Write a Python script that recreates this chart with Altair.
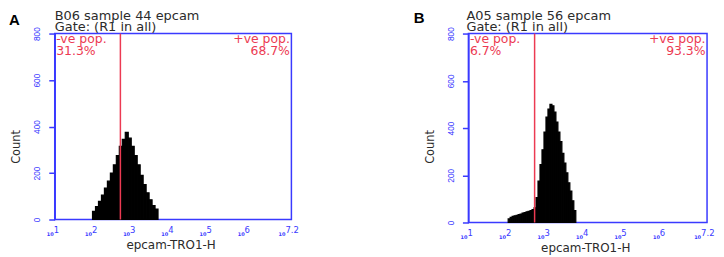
import math
import altair as alt
import pandas as pd

BLUE = "#3a3aff"
RED = "#ec3a52"
INK = "#2b2b2b"
FONT = "DejaVu Sans"

# ---- data ----
X_DOMAIN = [1.0, 7.2]          # log10 of fluorescence (10^1 .. 10^7.2)
Y_DOMAIN = [0, 800]
y_ticks = [0, 200, 400, 600, 800]
decades = [1, 2, 3, 4, 5, 6]
decade_labels = ["1", "2", "3", "4", "5", "6"]
end_value = [7.2]
end_label = ["7.2"]
gate = 2.72                    # log10 of gate position

a_first = 1.99
a_step = 0.078
a_counts = [35, 55, 78, 105, 135, 165, 200, 235, 275, 315, 345,
            375, 350, 315, 275, 235, 190, 150, 115, 85, 60, 45]

b_first = 2.033
b_step = 0.0517
b_counts = [15, 22, 26, 28, 30, 33, 36, 40, 42, 45, 47, 50, 55, 62,
            105, 175, 245, 308, 383, 446, 480, 500, 494, 467, 425, 383,
            342, 293, 251, 210, 168, 133, 92, 50]

minor_ticks = sorted({round(d + math.log10(k), 4)
                      for d in range(1, 8) for k in range(1, 10)
                      if d + math.log10(k) <= 7.2} | {7.2})


def txt(s, x, y, **kw):
    return alt.Chart(pd.DataFrame({"t": [s]})).mark_text(**kw).encode(
        x=alt.value(x), y=alt.value(y), text="t:N")


def panel(letter, lx, ly, t1, t2, first, step, counts, neg, pos, w, h, title_x):
    hist = pd.DataFrame({"lo": [first + i * step for i in range(len(counts))],
                         "count": counts})
    hist["hi"] = hist["lo"] + step
    xs = alt.Scale(domain=X_DOMAIN, nice=False, zero=False)
    ys = alt.Scale(domain=Y_DOMAIN, nice=False)
    bars = alt.Chart(hist).mark_rect(fill="black", stroke="black", strokeWidth=1.2,
                                     opacity=1).encode(
        x=alt.X("lo:Q", scale=xs,
                axis=alt.Axis(values=minor_ticks, labels=False, title=None, grid=False,
                              tickSize=4, tickWidth=1.2, tickColor=BLUE,
                              domainColor=BLUE, domainWidth=1.5)),
        x2="hi:Q",
        y=alt.Y("count:Q", scale=ys, stack=None,
                axis=alt.Axis(values=y_ticks, title=None, grid=False, labelAngle=270,
                              labelAlign="center", labelBaseline="bottom", labelPadding=7,
                              labelFont="Liberation Sans", labelFontSize=8.5,
                              labelColor=BLUE, tickColor=BLUE, tickSize=6, tickWidth=1.5,
                              domainColor=BLUE, domainWidth=1.5)),
        y2=alt.datum(0),
    )
    rule = alt.Chart(pd.DataFrame({"g": [gate]})).mark_rule(color=RED, strokeWidth=1.5).encode(
        x=alt.X("g:Q", axis=None))
    lab = pd.DataFrame({"v": decades, "e": decade_labels})
    endl = pd.DataFrame({"v": end_value, "e": end_label})
    tens = alt.Chart(lab).mark_text(text="10", align="right", baseline="alphabetic", dx=-1,
                                    font=FONT, fontSize=5, fontWeight="bold", color=BLUE).encode(
        x=alt.X("v:Q", axis=None), y=alt.value(h + 17))
    exps = alt.Chart(lab).mark_text(align="left", baseline="alphabetic", dx=-1,
                                    font=FONT, fontSize=8.5, color=BLUE).encode(
        x=alt.X("v:Q", axis=None), y=alt.value(h + 14), text="e:N")
    tens_end = alt.Chart(endl).mark_text(text="10", align="right", baseline="alphabetic", dx=-6,
                                         font=FONT, fontSize=5, fontWeight="bold", color=BLUE).encode(
        x=alt.X("v:Q", axis=None), y=alt.value(h + 17))
    exps_end = alt.Chart(endl).mark_text(align="left", baseline="alphabetic", dx=-6,
                                         font=FONT, fontSize=8.5, color=BLUE).encode(
        x=alt.X("v:Q", axis=None), y=alt.value(h + 14), text="e:N")
    layers = [
        bars, rule, tens, exps, tens_end, exps_end,
        txt(letter, lx, ly, align="left", baseline="alphabetic", font="Liberation Sans",
            fontSize=15, fontWeight="bold", color="black"),
        txt(t1, title_x, -14, align="left", baseline="alphabetic", font=FONT, fontSize=13, color=INK),
        txt(t2, title_x, -2.5, align="left", baseline="alphabetic", font=FONT, fontSize=13, color=INK),
        txt("-ve pop.", 1.5, 9.5, align="left", baseline="alphabetic", font=FONT, fontSize=12.5, color=RED),
        txt(neg, 1.5, 21.5, align="left", baseline="alphabetic", font=FONT, fontSize=12.5, color=RED),
        txt("+ve pop.", w - 1.5, 9.5, align="right", baseline="alphabetic", font=FONT, fontSize=12.5, color=RED),
        txt(pos, w - 1.5, 21.5, align="right", baseline="alphabetic", font=FONT, fontSize=12.5, color=RED),
        txt("Count", -37.5, 114, align="center", baseline="middle", angle=270, font=FONT,
            fontSize=11.5, color=INK),
        txt("epcam-TRO1-H", w / 2 - 2, h + 26, align="center", baseline="middle", font=FONT,
            fontSize=12, color=INK),
    ]
    return alt.layer(*layers).properties(width=w, height=h)


pa = panel("A", -46, -9, "B06 sample 44 epcam", "Gate: (R1 in all)",
           a_first, a_step, a_counts, "31.3%", "68.7%", 238, 187, 0)
pb = panel("B", -55, -11, "A05 sample 56 epcam", "Gate: (R1 in all)",
           b_first, b_step, b_counts, "6.7%", "93.3%", 240, 190, -2)

chart = alt.hconcat(pa, pb, spacing=178, bounds="flush").configure_view(
    stroke=BLUE, strokeWidth=1.5).properties(padding=0)

chart.save("out.html", embed_options={"renderer": "svg", "actions": False})
